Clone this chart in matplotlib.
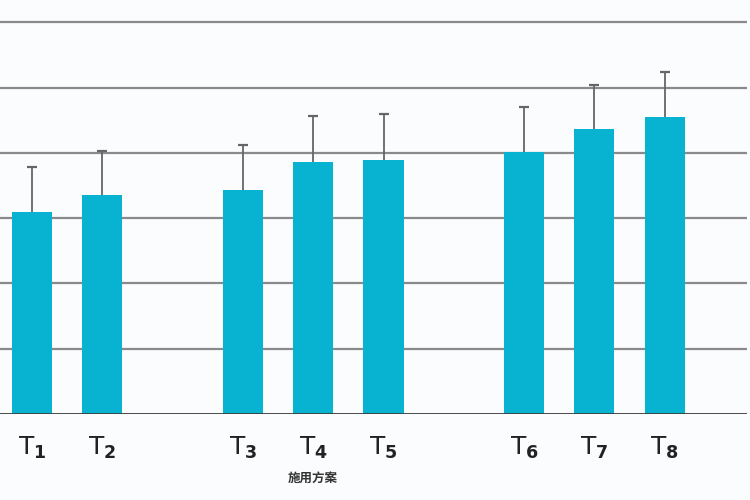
import matplotlib
matplotlib.use("Agg")
import matplotlib.pyplot as plt
import numpy as np

plt.rcParams['font.family'] = ['Noto Sans CJK SC', 'DejaVu Sans']

# data (grid units)
labels    = ["T$_\\mathbf{1}$", "T$_\\mathbf{2}$", "T$_\\mathbf{3}$", "T$_\\mathbf{4}$",
             "T$_\\mathbf{5}$", "T$_\\mathbf{6}$", "T$_\\mathbf{7}$", "T$_\\mathbf{8}$"]
positions = [0, 1, 3, 4, 5, 7, 8, 9]
means     = [3.09, 3.35, 3.43, 3.86, 3.89, 4.01, 4.36, 4.55]
errors    = [0.69, 0.68, 0.69, 0.70, 0.70, 0.69, 0.68, 0.68]
grid_vals = [1, 2, 3, 4, 5, 6]

BAR_COLOR = "#08b3d1"

fig = plt.figure(figsize=(7.5, 5), dpi=100)
fig.patch.set_facecolor("#fbfcfd")
ax = fig.add_axes([0.0, 0.172, 0.996, 0.828])
ax.set_facecolor("#fbfcfd")

for g in grid_vals:
    ax.axhline(g, color="#8a8a8a", lw=1.6, zorder=1)
ax.axhline(0, color="#3c3c3c", lw=2.0, zorder=4)

ax.bar(positions, means, width=0.57, color=BAR_COLOR, zorder=3)
_, caps, _ = ax.errorbar(positions, means, yerr=[np.zeros(len(means)), errors],
                         fmt="none", ecolor="#666666", elinewidth=1.3,
                         capsize=3.5, capthick=1.6, zorder=2)
caps[0].set_visible(False)

ax.set_xlim(-0.455, 10.17)
ax.set_ylim(0, 6.34)
ax.set_yticks([])
ax.set_xticks(positions)
ax.set_xticklabels(labels, fontsize=18, color="#222222", family="DejaVu Sans")
ax.tick_params(axis="x", length=0, pad=15)
for s in ax.spines.values():
    s.set_visible(False)

ax.set_xlabel("施用方案", fontsize=9, color="#333333", fontweight="bold")
ax.xaxis.set_label_coords(313 / 747, -0.14)

fig.savefig("out.png", dpi=100, facecolor=fig.get_facecolor())
